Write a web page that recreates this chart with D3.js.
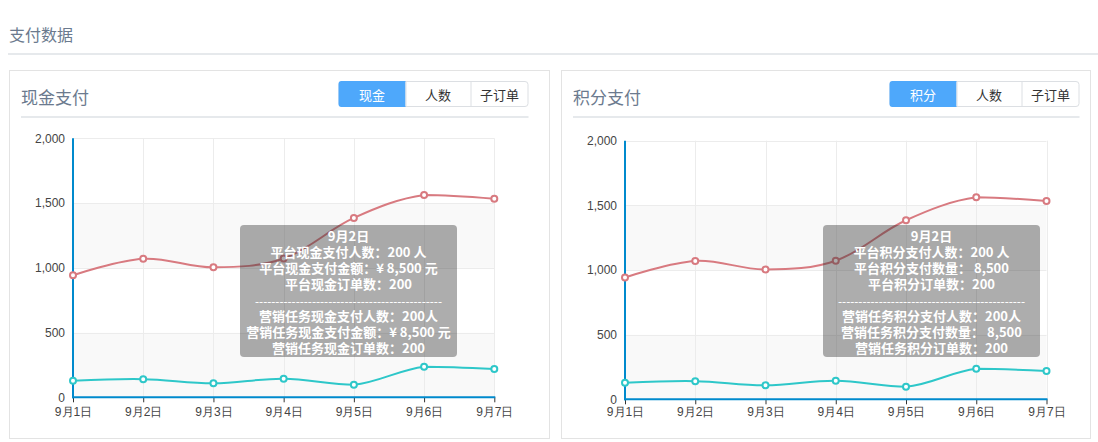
<!DOCTYPE html>
<html><head><meta charset="utf-8">
<script src="https://cdn.jsdelivr.net/npm/d3@7/dist/d3.min.js"></script>
<style>
html,body{margin:0;padding:0;background:#fff;}
svg{display:block;font-family:"Noto Sans CJK SC","Microsoft YaHei",sans-serif;}
</style></head>
<body><svg id="c" width="1098" height="442"></svg>
<script>
const categories = ["9月1日","9月2日","9月3日","9月4日","9月5日","9月6日","9月7日"];
const platformValues = [942, 1070, 1004, 1072, 1385, 1562, 1533];
const marketingValues = [128, 140, 108, 144, 97, 236, 218];
const yTicks = [0, 500, 1000, 1500, 2000];
const cashButtons = ["现金","人数","子订单"];
const pointButtons = ["积分","人数","子订单"];
const cashTooltip = ["9月2日","平台现金支付人数：200 人","平台现金支付金额：¥ 8,500 元","平台现金订单数：200","-","营销任务现金支付人数：200人","营销任务现金支付金额：¥ 8,500 元","营销任务现金订单数：200"];
const pointTooltip = ["9月2日","平台积分支付人数：200 人","平台积分支付数量： 8,500","平台积分订单数：200","-","营销任务积分支付人数：200人","营销任务积分支付数量： 8,500","营销任务积分订单数：200"];
const seriesColors = ["#d87a80","#2ec7c9"];

const svg = d3.select("#c");

// page header
svg.append("text").attr("x",9).attr("y",34).attr("dominant-baseline","central")
  .attr("font-size",16).attr("fill","#6b7a8e").text("支付数据");
svg.append("rect").attr("x",8).attr("y",53).attr("width",1090).attr("height",2).attr("fill","#e6e9ec");

// ECharts-like smooth path
function smoothPath(pts, smooth){
  const xs = pts.map(p=>p[0]), ys = pts.map(p=>p[1]);
  const mn=[d3.min(xs),d3.min(ys)], mx=[d3.max(xs),d3.max(ys)];
  const clamp=(v)=>[Math.min(Math.max(v[0],mn[0]),mx[0]),Math.min(Math.max(v[1],mn[1]),mx[1])];
  const p = d3.path();
  let cp0 = pts[0].slice();
  p.moveTo(pts[0][0],pts[0][1]);
  for(let i=1;i<pts.length;i++){
    const pt=pts[i], prev=pts[i-1], next=pts[i+1];
    let cp1, ratio=0.5, v=[0,0];
    if(!next){ cp1 = pt.slice(); }
    else{
      v=[next[0]-prev[0], next[1]-prev[1]];
      const lp=Math.hypot(pt[0]-prev[0],pt[1]-prev[1]);
      const ln=Math.hypot(pt[0]-next[0],pt[1]-next[1]);
      ratio = ln/(ln+lp);
      cp1=[pt[0]-v[0]*smooth*(1-ratio), pt[1]-v[1]*smooth*(1-ratio)];
    }
    const a=clamp(cp0), b=clamp(cp1);
    p.bezierCurveTo(a[0],a[1],b[0],b[1],pt[0],pt[1]);
    cp0=[pt[0]+v[0]*smooth*ratio, pt[1]+v[1]*smooth*ratio];
  }
  return p.toString();
}

function panel(cfg){
  const g = svg.append("g");
  g.append("rect").attr("x",cfg.px+0.5).attr("y",70.5).attr("width",cfg.pw-1).attr("height",368)
    .attr("fill","#fff").attr("stroke","#e3e3e3");
  g.append("text").attr("x",cfg.px+12).attr("y",96).attr("dominant-baseline","central")
    .attr("font-size",17).attr("fill","#6b7a8e").text(cfg.title);
  g.append("rect").attr("x",cfg.px+12).attr("y",116).attr("width",cfg.bx1-cfg.px-12).attr("height",2).attr("fill","#e6e9ec");

  // buttons
  const bw=[67,65,58];
  const bx = cfg.bx1 - d3.sum(bw);
  const bg = g.append("g");
  bg.append("rect").attr("x",bx+0.5).attr("y",81.5).attr("width",d3.sum(bw)-1).attr("height",25)
    .attr("rx",3).attr("fill","#fff").attr("stroke","#dcdfe3");
  let cx=bx;
  cfg.buttons.forEach((b,i)=>{
    if(i===0){
      bg.append("path").attr("d",`M${cx+3},81 h${bw[0]-3} v26 h-${bw[0]-3} a3,3 0 0 1 -3,-3 v-20 a3,3 0 0 1 3,-3z`).attr("fill","#4ea8fb");
    } else {
      bg.append("line").attr("x1",cx+0.5).attr("x2",cx+0.5).attr("y1",82).attr("y2",106).attr("stroke","#dcdfe3");
    }
    bg.append("text").attr("x",cx+bw[i]/2).attr("y",94).attr("text-anchor","middle").attr("dominant-baseline","central")
      .attr("font-size",13).attr("fill",i===0?"#fff":"#333").text(b);
    cx+=bw[i];
  });

  const x = d3.scalePoint().domain(categories).range([cfg.x0,cfg.x1]);
  const y = d3.scaleLinear().domain([0,2000]).range([cfg.y0,cfg.y1]);

  // split areas
  for(let i=0;i<yTicks.length-1;i++){
    g.append("rect").attr("x",cfg.x0).attr("y",y(yTicks[i+1])).attr("width",cfg.x1-cfg.x0)
      .attr("height",y(yTicks[i])-y(yTicks[i+1])).attr("fill", i%2===0?"#f9f9f9":"#fff");
  }
  // grid lines
  g.selectAll(".hg").data(yTicks.slice(1)).join("line").attr("x1",cfg.x0).attr("x2",cfg.x1)
    .attr("y1",d=>Math.round(y(d))+0.5).attr("y2",d=>Math.round(y(d))+0.5).attr("stroke","#ececec");
  g.selectAll(".vg").data(categories.slice(1)).join("line").attr("y1",cfg.y1).attr("y2",cfg.y0)
    .attr("x1",d=>Math.round(x(d))+0.5).attr("x2",d=>Math.round(x(d))+0.5).attr("stroke","#ececec");

  // axes
  const xa = g.append("g").attr("transform",`translate(0,${cfg.y0})`)
    .call(d3.axisBottom(x).tickSize(5).tickSizeOuter(0).tickPadding(cfg.labelPad));
  xa.select(".domain").remove();
  xa.selectAll(".tick line").attr("stroke","#333");
  xa.selectAll("text").attr("font-size",12).attr("fill","#444").attr("font-family",null);
  const ya = g.append("g").attr("transform",`translate(${cfg.x0},0)`)
    .call(d3.axisLeft(y).tickValues(yTicks).tickFormat(d3.format(",")).tickSize(0).tickPadding(8));
  ya.select(".domain").remove();
  ya.selectAll("text").attr("font-size",12).attr("fill","#444").attr("font-family",null);
  g.append("line").attr("x1",cfg.x0-1).attr("x2",cfg.x1+1).attr("y1",cfg.y0).attr("y2",cfg.y0).attr("stroke","#008acd").attr("stroke-width",2);
  g.append("line").attr("x1",cfg.x0).attr("x2",cfg.x0).attr("y1",cfg.y1).attr("y2",cfg.y0+1).attr("stroke","#008acd").attr("stroke-width",2);

  // series
  [platformValues, marketingValues].forEach((vals,si)=>{
    const pts = vals.map((v,i)=>[x(categories[i]), y(v)]);
    g.append("path").attr("d",smoothPath(pts,0.35)).attr("fill","none")
      .attr("stroke",seriesColors[si]).attr("stroke-width",2);
    g.selectAll(".pt"+si).data(vals).join("circle").attr("cx",(d,i)=>x(categories[i])).attr("cy",d=>y(d))
      .attr("r",3).attr("fill","#fff").attr("stroke",seriesColors[si]).attr("stroke-width",2);
  });

  // tooltip
  const tg = g.append("g");
  tg.append("rect").attr("x",cfg.tx).attr("y",225).attr("width",cfg.tw).attr("height",132).attr("rx",4)
    .attr("fill","rgba(50,50,50,0.4)");
  const offs=[10.5,26,42,58,75,90.5,106.5,122.5];
  cfg.tooltip.forEach((t,i)=>{
    const tt = tg.append("text").attr("x",cfg.tx+cfg.tw/2).attr("y",225+offs[i]).attr("text-anchor","middle")
      .attr("dominant-baseline","central").attr("font-size",13).attr("font-weight","bold").attr("fill","#fff");
    if(t==="-"){
      tt.text("-".repeat(46)).attr("textLength",187).attr("lengthAdjust","spacingAndGlyphs").attr("font-weight","normal");
    } else tt.text(t);
  });
}

panel({px:9,pw:541,title:"现金支付",bx1:528.5,buttons:cashButtons,x0:73,x1:494.3,y0:397.3,y1:138.3,labelPad:5,tooltip:cashTooltip,tx:240,tw:217});
panel({px:561,pw:530,title:"积分支付",bx1:1079.5,buttons:pointButtons,x0:625,x1:1046.5,y0:399.3,y1:140.7,labelPad:3,tooltip:pointTooltip,tx:823,tw:217});
</script></body></html>
